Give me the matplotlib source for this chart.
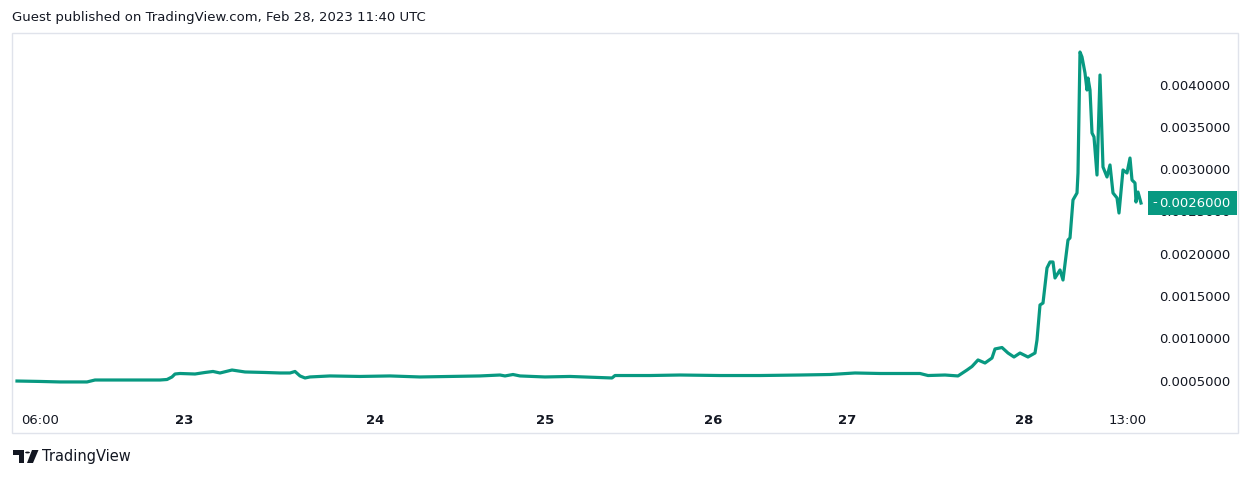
import matplotlib
matplotlib.use('Agg')
from matplotlib import pyplot as plt
from matplotlib.patches import Rectangle, Polygon, Circle
from matplotlib.transforms import blended_transform_factory, offset_copy

# bar index (TradingView squeezes gaps, so the axis is bars, not time)
bars = [5, 28, 48, 75, 83, 118, 148, 155, 160, 163, 168, 183, 193, 201, 208, 220, 233, 253,
        268, 278, 283, 288, 293, 298, 318, 348, 378, 408, 438, 468, 488, 493, 501, 508, 533,
        558, 586, 600, 603, 638, 668, 708, 748, 788, 818, 843, 868, 908, 916, 933, 946, 955,
        960, 966, 973, 980, 983, 990, 996, 1002, 1008, 1016, 1023, 1025, 1028, 1031, 1035,
        1038, 1041, 1043, 1048, 1051, 1056, 1058, 1061, 1065, 1066, 1068, 1070, 1073, 1075,
        1076, 1078, 1080, 1082, 1085, 1088, 1091, 1095, 1098, 1101, 1105, 1107, 1111, 1115,
        1118, 1120, 1123, 1124, 1126, 1129]
price = [0.000496, 0.000491, 0.000485, 0.000485, 0.000508, 0.000508, 0.000508, 0.000514,
         0.000544, 0.000579, 0.000585, 0.000579, 0.000597, 0.000609, 0.000591, 0.000626,
         0.000603, 0.000597, 0.000591, 0.000591, 0.000609, 0.000556, 0.000532, 0.000544,
         0.000556, 0.000550, 0.000556, 0.000544, 0.000550, 0.000556, 0.000567, 0.000556,
         0.000573, 0.000556, 0.000544, 0.000550, 0.000538, 0.000532, 0.000561, 0.000561,
         0.000567, 0.000561, 0.000561, 0.000567, 0.000573, 0.000591, 0.000585, 0.000585,
         0.000561, 0.000567, 0.000556, 0.000626, 0.000668, 0.000745, 0.000709, 0.000768,
         0.000875, 0.000892, 0.000827, 0.000780, 0.000827, 0.000780, 0.000827, 0.000981,
         0.001395, 0.001418, 0.001832, 0.001903, 0.001903, 0.001714, 0.001809, 0.001690,
         0.002163, 0.002187, 0.002636, 0.002719, 0.002955, 0.004385, 0.004326, 0.004137,
         0.003936, 0.004078, 0.003936, 0.003428, 0.003381, 0.002931, 0.004113, 0.003026,
         0.002908, 0.003050, 0.002719, 0.002660, 0.002482, 0.002991, 0.002955, 0.003132,
         0.002872, 0.002837, 0.002612, 0.002730, 0.002600]

tick_bars = [28, 172, 363, 533, 701, 835, 1012, 1116]
tick_labels = ['06:00', '23', '24', '25', '26', '27', '28', '13:00']
bold_labels = ['23', '24', '25', '26', '27', '28']
price_ticks = [0.0005, 0.0010, 0.0015, 0.0020, 0.0025, 0.0030, 0.0035, 0.0040]

W, H = 1251, 478
TEAL = '#089981'
TEXT = '#131722'
BORDER = '#e0e3eb'

plt.rcParams['font.family'] = ['DejaVu Sans']

fig = plt.figure(figsize=(W / 100, H / 100), dpi=100)
ax = fig.add_axes([12 / W, (H - 402) / H, 1136 / W, 369 / H])

ax.plot(bars, price, color=TEAL, linewidth=2.3, solid_joinstyle='round', zorder=3)

ax.set_xlim(0, 1136)
ax.set_ylim(0.000248, 0.0046099)
for s in ax.spines.values():
    s.set_visible(False)

ax.set_xticks(tick_bars)
ax.set_xticklabels(tick_labels)
ax.tick_params(axis='x', length=0, pad=9.0, labelsize=9.5, labelcolor=TEXT)
for lab in ax.get_xticklabels():
    if lab.get_text() in bold_labels:
        lab.set_fontweight('bold')

ax.yaxis.tick_right()
ax.set_yticks(price_ticks)
ax.set_yticklabels([f'{v:.7f}' for v in price_ticks])
ax.tick_params(axis='y', length=0, pad=8, labelsize=9.5, labelcolor=TEXT)

# last price marker on the price scale: teal box from the pane edge to the frame
tr = blended_transform_factory(ax.transAxes, ax.transData)
y_disp = ax.transData.transform((0, price[-1]))[1]
y0_ax = ax.transAxes.inverted().transform((0, y_disp - 12))[1]
ax.add_patch(Rectangle((1.0, y0_ax), 89 / 1136, 24 / 369, transform=ax.transAxes, clip_on=False,
                       zorder=4, facecolor=TEAL, edgecolor='none'))
ax.text(1.0, price[-1], '-', transform=offset_copy(tr, fig=fig, x=3, y=0, units='points'),
        ha='left', va='center', fontsize=9.5, color='white', clip_on=False, zorder=5)
ax.text(1.0, price[-1], f'{price[-1]:.7f}', transform=offset_copy(tr, fig=fig, x=8.3, y=0, units='points'),
        ha='left', va='center', fontsize=9.5, color='white', clip_on=False, zorder=5)

# chart frame
fig.patches.append(Rectangle((12 / W, (H - 433) / H), 1226 / W, 400 / H, transform=fig.transFigure,
                             fill=False, edgecolor=BORDER, linewidth=1.0))

fig.text(12 / W, 1 - 17 / H, 'Guest published on TradingView.com, Feb 28, 2023 11:40 UTC',
         ha='left', va='center', fontsize=9.5, color=TEXT)


def px(x, y):
    return (x / W, 1 - y / H)


# TradingView logo
fig.patches.append(Polygon([px(13, 450), px(24, 450), px(24, 463), px(19, 463), px(19, 455), px(13, 455)],
                           closed=True, transform=fig.transFigure, facecolor=TEXT, edgecolor='none'))
fig.patches.append(Circle(px(27.5, 452.5), 2.4 / W, transform=fig.transFigure, facecolor=TEXT, edgecolor='none'))
fig.patches.append(Polygon([px(32, 450), px(38.5, 450), px(33, 463), px(27, 463)],
                           closed=True, transform=fig.transFigure, facecolor=TEXT, edgecolor='none'))
fig.text(42 / W, 1 - 457 / H, 'TradingView', ha='left', va='center', fontsize=10.5, color=TEXT)

fig.savefig('out.png', dpi=100)
